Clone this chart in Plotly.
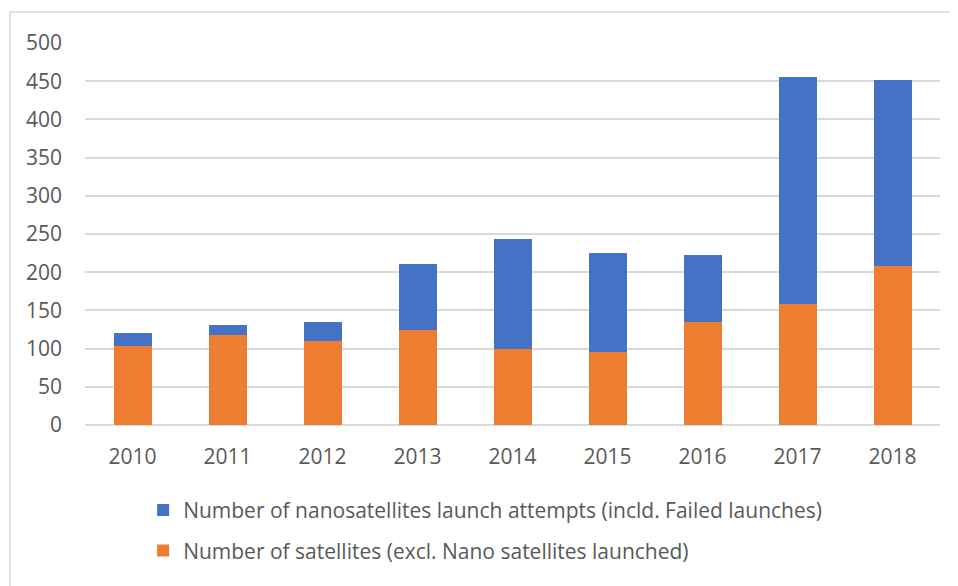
import plotly.graph_objects as go

years = ["2010", "2011", "2012", "2013", "2014", "2015", "2016", "2017", "2018"]
satellites = [103, 118, 110, 124, 100, 96, 135, 159, 208]
nano_attempts = [17, 13, 25, 87, 143, 129, 87, 296, 244]

name_sat = "Number of satellites (excl. Nano satellites launched)"
name_nano = "Number of nanosatellites launch attempts (incld. Failed launches)"

FONT = "Open Sans, sans-serif"
GREY = "#595959"
FS = 21

fig = go.Figure()
fig.add_trace(go.Bar(x=years, y=satellites, name=name_sat, marker_color="#ED7D31",
                     marker_line_width=0, legendgroup="a", legendrank=2))
fig.add_trace(go.Bar(x=years, y=nano_attempts, name=name_nano, marker_color="#4472C4",
                     marker_line_width=0, legendgroup="b", legendrank=1))

fig.update_layout(
    width=950, height=578,
    barmode="stack", bargap=0.6,
    paper_bgcolor="white", plot_bgcolor="white",
    margin=dict(l=77, r=18, t=35, b=161),
    font=dict(family=FONT, size=FS, color=GREY),
    showlegend=True,
    legend=dict(orientation="v", x=0.068, xanchor="left", y=-0.17, yanchor="top",
                traceorder="grouped", tracegroupgap=10, itemwidth=30,
                font=dict(size=FS, color=GREY)),
    xaxis=dict(showline=False, ticks="", ticklabelstandoff=17, tickfont=dict(size=FS, color=GREY)),
    yaxis=dict(range=[0, 500], dtick=50, showgrid=True, gridcolor="#d9d9d9", gridwidth=1.5,
               zeroline=True, zerolinecolor="#d9d9d9", zerolinewidth=1.5,
               ticks="", ticklabelstandoff=22, tickfont=dict(size=FS, color=GREY)),
    shapes=[dict(type="rect", xref="paper", yref="paper",
                 x0=-0.0877, x1=1.2, y0=-0.6, y1=1.081,
                 line=dict(color="#d9d9d9", width=1.5), fillcolor="rgba(0,0,0,0)", layer="below")],
)

fig.write_html("out.html")
